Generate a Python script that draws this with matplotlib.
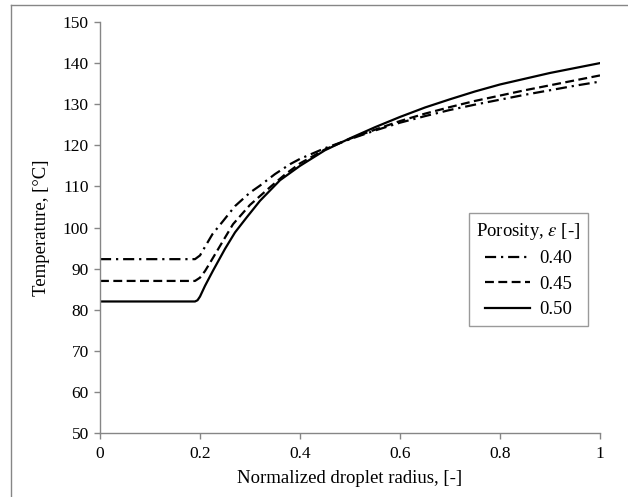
import matplotlib
matplotlib.use("Agg")
import matplotlib.pyplot as plt
from matplotlib.lines import Line2D

plt.rcParams['font.family'] = ['Liberation Serif', 'DejaVu Serif']
plt.rcParams['mathtext.fontset'] = 'stix'

# porosity 0.40
x_040 = [0, 0.19, 0.2, 0.21, 0.225, 0.247, 0.27, 0.3, 0.32, 0.35, 0.38, 0.4, 0.45, 0.5,
         0.55, 0.6, 0.65, 0.7, 0.75, 0.8, 0.85, 0.9, 0.95, 1.0]
t_040 = [92.3, 92.3, 93.2, 95.3, 98.4, 101.7, 105.2, 108.5, 110.2, 113.0, 115.4, 116.7, 119.3, 121.5,
         123.6, 125.5, 127.1, 128.6, 129.9, 131.1, 132.3, 133.4, 134.5, 135.5]

# porosity 0.45
x_045 = [0, 0.19, 0.2, 0.21, 0.22, 0.24, 0.266, 0.3, 0.34, 0.37, 0.4, 0.45, 0.5,
         0.55, 0.6, 0.65, 0.7, 0.75, 0.8, 0.85, 0.9, 0.95, 1.0]
t_045 = [87.0, 87.0, 87.8, 89.4, 91.4, 95.5, 100.8, 105.5, 109.8, 112.9, 115.6, 119.0, 121.6,
         123.8, 125.9, 127.7, 129.3, 130.8, 132.1, 133.4, 134.6, 135.8, 137.0]

# porosity 0.50
x_050 = [0, 0.19, 0.195, 0.2, 0.21, 0.226, 0.25, 0.27, 0.293, 0.32, 0.36, 0.4, 0.45, 0.5,
         0.55, 0.6, 0.65, 0.7, 0.75, 0.8, 0.85, 0.9, 0.95, 1.0]
t_050 = [82.0, 82.0, 82.3, 83.2, 85.8, 89.5, 94.8, 98.8, 102.4, 106.5, 111.5, 115.0, 118.8, 121.7,
         124.4, 126.9, 129.2, 131.2, 133.1, 134.8, 136.2, 137.6, 138.8, 140.0]

labels = ['0.40', '0.45', '0.50']
x_ticks = [0, 0.2, 0.4, 0.6, 0.8, 1]
x_tick_labels = ['0', '0.2', '0.4', '0.6', '0.8', '1']
y_ticks = list(range(50, 151, 10))

fig = plt.figure(figsize=(6.28, 4.97), dpi=100)
ax = fig.add_axes([100 / 628, 1 - 433 / 497, 500 / 628, 411 / 497])

ax.plot(x_040, t_040, color='black', lw=1.6, linestyle=(0, (5, 2.2, 1, 2.2)), label=labels[0])
ax.plot(x_045, t_045, color='black', lw=1.6, linestyle=(0, (4, 2)), label=labels[1])
ax.plot(x_050, t_050, color='black', lw=1.6, linestyle='-', label=labels[2])

ax.set_xlim(0, 1)
ax.set_ylim(50, 150)
ax.set_xticks(x_ticks)
ax.set_xticklabels(x_tick_labels)
ax.set_yticks(y_ticks)

for s in ['top', 'right']:
    ax.spines[s].set_visible(False)
for s in ['left', 'bottom']:
    ax.spines[s].set_color('#868686')
    ax.spines[s].set_linewidth(1.0)
ax.tick_params(direction='out', length=4, width=1.0, color='#868686', labelsize=12.5, pad=4)
ax.tick_params(axis='x', pad=5)

ax.set_xlabel('Normalized droplet radius, [-]', fontsize=13.5, labelpad=6)
ax.set_ylabel('Temperature, [°C]', fontsize=13.5, labelpad=9)

leg = ax.legend(title=r'Porosity, $\varepsilon$ [-]', loc='upper left',
                bbox_to_anchor=(0.738, 0.535), borderaxespad=0, fontsize=13.5,
                title_fontsize=13.5, fancybox=False, framealpha=1,
                handlelength=2.4, handletextpad=0.5, labelspacing=0.45,
                borderpad=0.4)
leg.get_frame().set_edgecolor('#9a9a9a')
leg.get_frame().set_linewidth(1.0)

# outer chart border (left and top edges visible)
fig.add_artist(Line2D([11 / 628, 11 / 628], [0, 1 - 5 / 497], transform=fig.transFigure,
                      color='#868686', lw=1.0))
fig.add_artist(Line2D([11 / 628, 1], [1 - 5 / 497, 1 - 5 / 497], transform=fig.transFigure,
                      color='#868686', lw=1.0))

fig.savefig('out.png', dpi=100)
